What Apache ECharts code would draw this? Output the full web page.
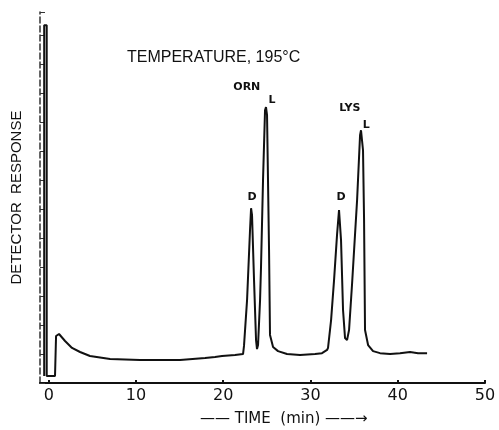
<!DOCTYPE html>
<html>
<head>
<meta charset="utf-8">
<script src="https://cdn.jsdelivr.net/npm/echarts@6/dist/echarts.min.js"></script>
<style>
  html, body { margin: 0; padding: 0; background: #fff; }
  #chart { width: 499px; height: 430px; }
</style>
</head>
<body>
<div id="chart"></div>
<script>
// trace: time (min) and response (in y-tick units)
const traceTime = [
  -0.52, -0.52, -0.23, -0.23, 0.72, 0.84, 1.18, 1.87, 2.67, 3.59, 4.73, 7.03,
  10.46, 15.05, 17.92, 19.06, 19.86, 21.35, 22.27, 22.38, 22.73, 23.07, 23.19,
  23.30, 23.53, 23.76, 23.87, 23.99, 24.22, 24.33, 24.56, 24.79, 24.90, 25.02,
  25.25, 25.36, 25.71, 26.28, 27.31, 28.80, 30.52, 31.32, 31.90, 32.01, 32.36,
  32.70, 33.04, 33.27, 33.50, 33.73, 33.96, 34.19, 34.42, 34.76, 35.34, 35.68,
  35.79, 36.02, 36.14, 36.25, 36.60, 37.17, 37.97, 39.12, 40.26, 41.41, 42.33,
  43.36
];
const traceResponse = [
  0.24, 12.34, 12.34, 0.24, 0.24, 1.62, 1.69, 1.45, 1.21, 1.07, 0.93, 0.83,
  0.79, 0.79, 0.86, 0.90, 0.93, 0.97, 1.00, 1.28, 2.86, 5.28, 6.03,
  5.79, 3.55, 1.48, 1.17, 1.31, 2.86, 4.00, 7.00, 9.41, 9.52, 9.24,
  4.59, 1.66, 1.24, 1.10, 1.00, 0.97, 1.00, 1.03, 1.14, 1.21, 2.17,
  3.55, 5.10, 5.97, 4.93, 2.52, 1.55, 1.48, 1.83, 3.40, 6.31, 8.55,
  8.72, 8.03, 5.62, 1.83, 1.31, 1.10, 1.03, 1.00, 1.03, 1.07, 1.03,
  1.03
];
const timeTicks = [0, 10, 20, 30, 40, 50];

// peak annotations
const peakText = ["ORN", "L", "LYS", "L", "D", "D"];
const peakTime = [22.7, 25.6, 34.5, 36.4, 23.3, 33.5];
const peakResponse = [10.2, 9.75, 9.5, 8.9, 6.4, 6.4];

const chart = echarts.init(document.getElementById("chart"));
const ink = "#111";

chart.setOption({
  animation: false,
  backgroundColor: "#fff",
  title: {
    text: "TEMPERATURE, 195°C",
    left: 127,
    top: 50,
    padding: 0,
    textStyle: {
      fontFamily: "Liberation Sans",
      fontSize: 16,
      fontWeight: "normal",
      color: ink,
    },
  },
  grid: {
    left: 40,
    right: 14,
    top: 12,
    bottom: 47,
  },
  xAxis: {
    type: "value",
    min: -1,
    max: 50,
    axisLine: { onZero: false, lineStyle: { color: ink, width: 2 } },
    axisTick: {
      customValues: timeTicks,
      inside: true,
      length: 3,
      lineStyle: { color: ink, width: 2 },
    },
    axisLabel: {
      customValues: timeTicks,
      fontFamily: "DejaVu Sans",
      fontSize: 16,
      color: ink,
      margin: 5,
    },
    splitLine: { show: false },
  },
  yAxis: {
    type: "value",
    min: 0,
    max: 12.8,
    interval: 1,
    name: "DETECTOR  RESPONSE",
    nameLocation: "middle",
    nameGap: 16,
    nameTextStyle: {
      fontFamily: "Liberation Sans",
      fontSize: 15,
      color: ink,
    },
    axisLine: { onZero: false, lineStyle: { color: "#333", width: 1.5, type: "dashed" } },
    axisTick: { inside: true, length: 5, lineStyle: { color: "#333" } },
    axisLabel: { show: false },
    splitLine: { show: false },
  },
  graphic: [
    {
      type: "text",
      left: 200,
      top: 412,
      style: {
        text: "—— TIME  (min) ——→",
        fontFamily: "DejaVu Sans",
        fontSize: 15,
        fill: ink,
      },
    },
  ],
  series: [
    {
      type: "line",
      data: traceTime.map((t, i) => [t, traceResponse[i]]),
      showSymbol: false,
      lineStyle: { color: ink, width: 2 },
      markPoint: {
        symbol: "circle",
        symbolSize: 0,
        label: {
          show: true,
          fontFamily: "DejaVu Sans",
          fontSize: 11,
          fontWeight: "bold",
          color: ink,
          formatter: (p) => p.name,
        },
        data: peakText.map((txt, i) => ({
          name: txt,
          coord: [peakTime[i], peakResponse[i]],
        })),
      },
    },
  ],
});
</script>
</body>
</html>
